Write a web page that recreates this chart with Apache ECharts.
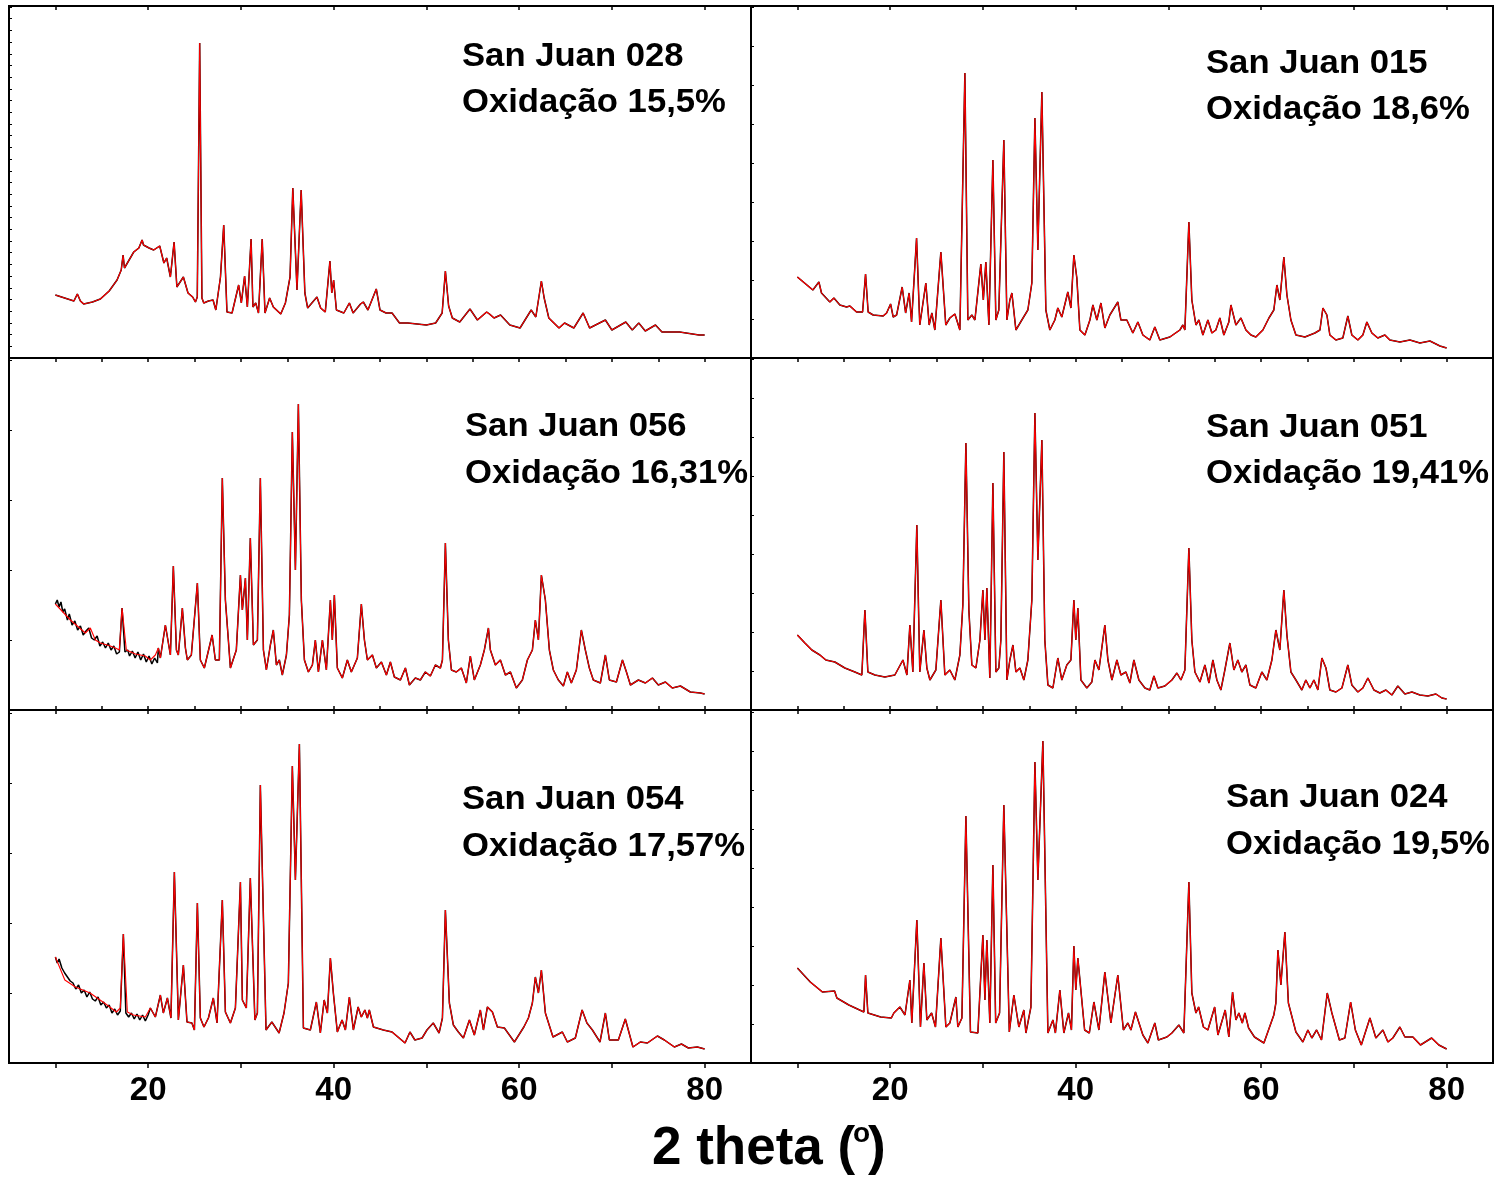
<!DOCTYPE html>
<html>
<head>
<meta charset="utf-8">
<script src="https://cdn.jsdelivr.net/npm/echarts@6/dist/echarts.min.js"></script>
<style>
  html, body { margin: 0; padding: 0; background: #fff; }
  #chart { width: 1499px; height: 1178px; }
</style>
</head>
<body>
<div id="chart"></div>
<script>
// XRD patterns: [2theta (deg), relative intensity (a.u.)]
const sj028 = [[10,63],[11,60],[12,57],[12.37,64],[12.7,57],[13.05,54],[14,56],[14.85,59],[15.8,67],[16.65,78],[17.1,88],[17.3,103],[17.45,90],[18.45,106],[19,110],[19.35,118],[19.5,113],[20.1,110],[20.6,108],[21.25,112],[21.7,95],[22,100],[22.4,81],[22.8,116],[23.1,71],[23.8,81],[24.3,65],[24.8,61],[25.1,56],[25.3,61],[25.56,315],[25.8,60],[26.0,55],[26.5,57],[27,58],[27.3,48],[27.8,81],[28.15,133],[28.5,46],[29.05,45],[29.76,73],[30.05,55],[30.4,82],[30.7,51],[31.1,119],[31.3,51],[31.6,55],[31.9,45],[32.3,119],[32.6,45],[33.1,60],[33.5,51],[34.3,44],[34.8,55],[35.3,81],[35.6,170],[36.05,68],[36.5,168],[36.9,65],[37.2,50],[38.2,61],[38.6,50],[39.1,46],[39.6,97],[39.8,65],[40,78],[40.3,48],[41.1,45],[41.7,55],[42.1,45],[42.9,54],[43.2,56],[43.7,48],[44.6,69],[45,48],[45.65,45],[46.3,45],[47.1,35],[48,35],[49,34],[50,33],[51,35],[51.7,45],[52.05,87],[52.4,52],[52.8,40],[53.6,36],[54.7,49],[55.5,38],[56.5,46],[56.8,44],[57.3,40],[58,43],[59,33],[60.1,30],[61.3,48],[61.8,41],[62.4,77],[62.7,60],[63.2,40],[64.3,30],[64.9,35],[65.9,30],[66.9,45],[67.6,30],[69.3,38],[70,28],[71.5,36],[72.2,28],[72.9,35],[73.6,27],[74.7,33],[75.4,26],[77.3,26],[79.4,23],[80,23]];

const sj015 = [[10,81],[11.67,68],[12.32,76],[12.6,65],[13.5,56],[13.94,60],[14.58,53],[15.3,51],[15.66,52],[16.38,46],[17.03,46],[17.35,84],[17.63,46],[18.17,43],[19.25,42],[19.62,45],[20.05,54],[20.33,41],[20.7,43],[21.3,71],[21.67,45],[22.05,65],[22.31,36],[22.85,120],[23.2,33],[23.85,75],[24.21,33],[24.5,45],[24.82,28],[25.47,106],[26.0,33],[26.44,40],[26.98,44],[27.52,28],[28.06,285],[28.38,38],[28.81,43],[29.14,38],[29.78,94],[30.05,58],[30.32,96],[30.65,33],[31.08,198],[31.4,38],[31.72,48],[32.26,218],[32.59,38],[32.91,58],[33.13,65],[33.56,28],[34.2,38],[34.85,48],[35.28,75],[35.61,240],[35.93,108],[36.36,266],[36.79,48],[37.22,28],[37.76,38],[38.08,50],[38.51,41],[39.16,66],[39.49,50],[39.81,103],[40.13,80],[40.46,28],[41.0,23],[41.54,38],[41.86,53],[42.29,38],[42.73,55],[43.15,30],[43.69,43],[44.55,56],[44.88,38],[45.52,38],[46.17,25],[46.71,36],[47.25,23],[48.0,18],[48.54,31],[49.08,18],[50.16,21],[51.24,28],[51.56,33],[51.78,28],[52.21,136],[52.53,58],[52.97,33],[53.29,38],[53.72,23],[54.26,38],[54.69,25],[55.12,28],[55.55,40],[55.98,23],[56.52,36],[56.74,53],[57.28,33],[57.82,40],[58.36,28],[58.9,23],[59.43,21],[60.19,28],[60.84,40],[61.37,48],[61.7,73],[62.02,58],[62.45,101],[62.78,63],[63.21,38],[63.75,23],[64.72,21],[65.8,25],[66.34,28],[66.66,50],[67.09,43],[67.41,23],[68.06,18],[68.81,20],[69.35,42],[69.78,23],[70.43,18],[70.97,23],[71.4,36],[71.94,25],[72.58,20],[73.34,23],[73.88,18],[74.96,16],[76.04,18],[77.12,15],[78.2,17],[79.28,12],[80,10]];

const sj056 = [[10,106],[11.62,90],[13.23,77],[13.77,82],[14.31,70],[14.85,67],[15.93,64],[16.47,62],[16.9,60],[17.19,102],[17.65,60],[18.63,56],[19.7,54],[20.24,50],[20.78,55],[21.1,62],[21.32,52],[21.86,85],[22.4,55],[22.72,144],[23.05,60],[23.26,55],[23.69,102],[24.02,62],[24.23,50],[24.66,55],[25.31,127],[25.63,50],[26.06,42],[26.9,75],[27.25,50],[27.68,50],[28.0,232],[28.33,110],[28.65,70],[28.87,42],[29.51,60],[29.95,135],[30.16,100],[30.49,132],[30.7,70],[31.02,172],[31.35,65],[31.78,70],[32.1,232],[32.43,60],[32.75,40],[33.18,65],[33.5,80],[33.83,45],[34.15,50],[34.47,35],[34.91,55],[35.23,95],[35.55,278],[35.88,140],[36.2,306],[36.52,110],[36.85,50],[37.28,38],[37.71,45],[38.03,70],[38.36,38],[38.79,70],[39.22,40],[39.65,110],[39.86,70],[40.08,115],[40.4,42],[40.94,32],[41.48,50],[41.91,38],[42.56,52],[42.99,106],[43.32,70],[43.64,50],[44.18,55],[44.61,42],[45.15,48],[45.69,35],[46.12,48],[46.55,33],[47.2,30],[47.74,42],[48.17,25],[48.81,32],[49.35,30],[49.89,38],[50.43,34],[50.97,45],[51.51,42],[51.73,50],[52.05,167],[52.37,70],[52.7,40],[53.23,38],[53.77,42],[54.31,27],[54.74,54],[55.17,30],[55.82,45],[56.25,60],[56.69,82],[56.9,60],[57.44,45],[57.98,50],[58.52,35],[59.06,38],[59.7,22],[60.35,30],[60.89,50],[61.43,60],[61.75,90],[62.08,70],[62.4,135],[62.83,110],[63.26,60],[63.69,40],[64.23,30],[64.77,24],[65.2,38],[65.63,27],[66.17,40],[66.71,80],[67.14,60],[67.57,42],[68.0,30],[68.76,27],[69.3,55],[69.73,30],[70.49,28],[71.14,50],[71.57,38],[72.0,25],[72.86,30],[73.61,27],[74.37,32],[75.01,25],[75.77,28],[76.52,22],[77.39,24],[78.46,18],[79.54,17],[80,16]];

// noisier low-angle scan for the black trace of San Juan 056
const sj056LowAngle = [[10,106],[10.2,110],[10.4,103],[10.6,108],[10.8,98],[11.0,101],[11.3,90],[11.5,96],[11.8,85],[12.1,89],[12.4,80],[12.7,84],[13.0,75],[13.3,79],[13.6,82],[13.9,72],[14.2,70],[14.5,74],[14.8,64],[15.1,68],[15.4,62],[15.7,67],[16.0,60],[16.3,64],[16.6,56],[16.9,58],[17.19,102],[17.5,58],[17.8,60],[18.0,54],[18.3,59],[18.6,52],[18.9,58],[19.2,50],[19.5,56],[19.8,48],[20.1,54],[20.4,46],[20.7,52],[21.0,47]];

const sj051 = [[10,75],[10.81,67],[11.56,60],[12.43,55],[13.07,50],[14.04,48],[15.12,42],[16.2,38],[16.95,35],[17.28,100],[17.6,38],[18.36,35],[19.43,33],[20.51,35],[21.38,50],[21.81,35],[22.13,85],[22.45,38],[22.88,185],[23.2,38],[23.64,80],[23.96,42],[24.29,30],[24.93,40],[25.47,110],[25.9,35],[26.44,40],[26.98,30],[27.52,55],[27.84,105],[28.17,267],[28.49,100],[28.81,45],[29.25,42],[29.68,70],[30.0,120],[30.22,70],[30.43,122],[30.75,32],[31.08,227],[31.4,38],[31.72,42],[31.94,70],[32.26,258],[32.59,30],[32.91,50],[33.24,65],[33.56,38],[33.99,42],[34.42,30],[34.85,50],[35.28,110],[35.61,297],[35.93,150],[36.36,270],[36.68,70],[37.01,25],[37.55,22],[38.08,52],[38.51,30],[39.05,45],[39.49,50],[39.81,110],[40.02,70],[40.24,102],[40.57,30],[41.21,22],[41.75,28],[42.08,50],[42.51,40],[43.15,85],[43.48,50],[43.91,30],[44.45,50],[44.88,35],[45.42,38],[45.85,27],[46.28,50],[46.82,30],[47.47,22],[48.0,20],[48.44,34],[48.87,22],[49.62,24],[50.38,30],[50.92,37],[51.35,30],[51.78,40],[52.21,162],[52.53,70],[52.86,38],[53.4,28],[53.94,45],[54.37,27],[54.8,50],[55.23,30],[55.66,20],[56.09,40],[56.63,67],[57.06,40],[57.49,50],[57.92,38],[58.36,45],[58.79,25],[59.43,22],[60.08,38],[60.62,30],[61.16,50],[61.59,80],[62.02,60],[62.45,120],[62.78,75],[63.21,38],[63.75,30],[64.39,20],[64.82,30],[65.26,22],[65.69,30],[66.12,20],[66.55,52],[66.99,42],[67.41,20],[68.06,18],[68.71,22],[69.35,45],[69.78,25],[70.43,18],[70.97,22],[71.51,32],[72.16,20],[72.8,17],[73.45,20],[74.1,15],[74.74,24],[75.5,16],[76.26,18],[77.12,15],[77.98,14],[78.84,16],[79.49,12],[80,11]];

const sj054 = [[10,106],[11.02,83],[12.16,76],[13.74,70],[15.28,60],[16.58,51],[17.0,55],[17.33,129],[17.76,51],[18.41,48],[19.7,46],[20.24,55],[20.78,46],[21.32,68],[21.64,50],[22.08,65],[22.46,45],[22.83,191],[23.26,43],[23.8,98],[24.19,41],[24.72,40],[24.99,33],[25.31,160],[25.63,45],[26.02,36],[26.5,45],[27.03,65],[27.43,40],[28.0,163],[28.33,51],[28.87,40],[29.41,55],[29.95,181],[30.16,63],[30.59,55],[31.02,185],[31.51,43],[31.78,50],[32.1,278],[32.71,33],[33.34,41],[34.12,30],[34.65,50],[35.12,80],[35.55,297],[35.88,183],[36.31,319],[36.74,35],[37.49,33],[38.14,61],[38.57,30],[38.98,63],[39.33,50],[39.65,105],[39.97,70],[40.4,31],[40.91,43],[41.27,33],[41.7,66],[42.13,33],[42.64,56],[42.99,46],[43.37,53],[43.64,45],[43.85,53],[44.29,36],[45.36,33],[46.3,31],[47.7,20],[48.23,31],[48.76,23],[49.54,25],[50.06,33],[50.74,40],[51.37,30],[51.73,45],[52.05,153],[52.48,60],[52.91,38],[53.45,31],[53.99,25],[54.64,43],[55.17,28],[55.82,53],[56.15,33],[56.58,56],[57.12,51],[57.66,36],[58.41,35],[59.49,21],[60.51,36],[61.0,45],[61.43,60],[61.75,86],[62.08,70],[62.4,93],[62.83,50],[63.65,26],[64.66,31],[65.2,21],[66.06,25],[66.79,53],[67.31,40],[67.9,33],[68.72,21],[69.3,50],[69.73,23],[70.7,23],[71.45,44],[72.27,16],[73.07,21],[73.83,20],[74.91,27],[75.66,23],[76.74,16],[77.5,19],[78.25,15],[79.22,16],[80,14]];

// noisier low-angle scan for the black trace of San Juan 054
const sj054LowAngle = [[10,106],[10.2,100],[10.4,104],[10.7,95],[11.0,90],[11.3,86],[11.6,82],[11.9,80],[12.2,74],[12.5,78],[12.8,70],[13.1,73],[13.4,66],[13.7,71],[14.0,64],[14.3,62],[14.6,66],[14.9,58],[15.2,61],[15.5,55],[15.8,58],[16.1,50],[16.4,54],[16.7,48],[17.0,52],[17.33,129],[17.6,50],[17.9,46],[18.2,50],[18.5,44],[18.8,49],[19.1,43],[19.4,48],[19.7,42],[20.0,48]];

const sj024 = [[10,95],[11.39,81],[12.7,71],[14.01,72],[14.26,65],[15.55,58],[17.17,51],[17.35,88],[17.6,50],[18.98,46],[20.13,45],[20.4,50],[21.05,56],[21.6,48],[22.13,83],[22.34,40],[22.88,143],[23.27,36],[23.64,100],[23.96,43],[24.47,50],[24.89,36],[25.47,125],[26.01,36],[26.44,40],[27.09,66],[27.3,36],[27.74,45],[28.17,247],[28.66,31],[29.46,30],[30.0,128],[30.22,63],[30.43,123],[30.75,40],[31.08,198],[31.38,40],[31.8,50],[32.26,258],[32.85,31],[33.34,68],[33.88,36],[34.42,53],[34.64,30],[35.18,56],[35.61,301],[35.93,183],[36.47,322],[37.01,30],[37.55,43],[37.82,30],[38.3,73],[38.73,30],[39.23,50],[39.55,33],[39.81,117],[40.02,73],[40.24,105],[40.97,33],[41.48,30],[41.97,61],[42.51,33],[43.15,91],[43.8,40],[44.55,88],[45.15,33],[45.63,40],[45.96,33],[46.45,51],[47.25,28],[47.79,20],[48.54,40],[48.92,23],[49.84,26],[50.38,30],[51.13,38],[51.67,30],[52.21,181],[52.53,70],[52.97,50],[53.26,56],[53.78,36],[54.26,33],[54.99,56],[55.34,28],[56.13,53],[56.52,26],[56.92,71],[57.28,43],[57.6,50],[57.97,40],[58.25,50],[58.65,35],[59.28,26],[60.3,20],[61.37,48],[61.59,60],[61.81,113],[62.13,78],[62.56,131],[62.94,60],[63.75,31],[64.5,21],[65.04,33],[65.47,25],[65.98,33],[66.51,23],[67.13,70],[67.63,50],[68.44,23],[69.03,25],[69.65,61],[70.16,33],[70.8,18],[71.73,45],[72.37,25],[73.13,33],[73.67,21],[74.2,25],[74.96,36],[75.5,26],[76.36,26],[77.18,18],[78.38,25],[79.16,18],[80,14]];

const sampleNames = ['San Juan 028', 'San Juan 015', 'San Juan 056', 'San Juan 051', 'San Juan 054', 'San Juan 024'];
const oxidationLabels = ['Oxidação 15,5%', 'Oxidação 18,6%', 'Oxidação 16,31%', 'Oxidação 19,41%', 'Oxidação 17,57%', 'Oxidação 19,5%'];

const xTicksMajor = [10, 20, 30, 40, 50, 60, 70, 80];
const xTicksMinor = [10, 15, 20, 25, 30, 35, 40, 45, 50, 55, 60, 65, 70, 75, 80];
const xTickLabels = [20, 40, 60, 80];

// red trace per panel and the black trace drawn underneath it
const redTraces = [sj028, sj015, sj056, sj051, sj054, sj024];
function withLowAngle(low, full) {
  const lastX = low[low.length - 1][0];
  return low.concat(full.filter(p => p[0] > lastX));
}
const blackTraces = [sj028, sj015, withLowAngle(sj056LowAngle, sj056), sj051, withLowAngle(sj054LowAngle, sj054), sj024];

// ---- layout ----
const colLeft = [9, 751];
const colWidth = 742;
const rowTop = [6, 358, 710];
const rowHeight = [352, 352, 353];
const yTickStep = [11.7, 39, 70, 39, 70, 39];
const labelPos = [
  [462, 57, 103], [1206, 64, 110],
  [465, 427, 474], [1206, 428, 474],
  [462, 800, 847], [1226, 798, 845]
];
const FONT = '"Liberation Sans", Arial, Helvetica, sans-serif';

const grid = [], xAxis = [], yAxis = [], series = [], graphic = [];

for (let i = 0; i < 6; i++) {
  const row = Math.floor(i / 2), col = i % 2;
  grid.push({
    left: colLeft[col], top: rowTop[row], width: colWidth, height: rowHeight[row],
    show: true, borderColor: '#000', borderWidth: 2, backgroundColor: 'transparent'
  });
  const isBottom = row === 2;
  const isMiddle = row === 1;
  // bottom axis
  xAxis.push({
    gridIndex: i, type: 'value', min: 5, max: 85, position: 'bottom',
    axisLine: { show: false }, splitLine: { show: false },
    axisTick: {
      show: isBottom || isMiddle, inside: !isBottom, length: isBottom ? 5 : 4,
      lineStyle: { color: '#000', width: 1.5 },
      customValues: isBottom ? xTicksMajor : xTicksMinor
    },
    axisLabel: {
      show: isBottom, customValues: xTickLabels, margin: 11,
      color: '#000', fontSize: 33, fontWeight: 'bold', fontFamily: FONT
    }
  });
  // top axis (ticks only)
  xAxis.push({
    gridIndex: i, type: 'value', min: 5, max: 85, position: 'top',
    axisLine: { show: false }, splitLine: { show: false },
    axisTick: {
      show: true, inside: true, length: 4,
      lineStyle: { color: '#000', width: 1.5 },
      customValues: isMiddle ? xTicksMinor : xTicksMajor
    },
    axisLabel: { show: false }
  });
  yAxis.push({
    gridIndex: i, type: 'value', min: 0, max: rowHeight[row], interval: yTickStep[i],
    axisLine: { show: false }, splitLine: { show: false },
    axisTick: { show: true, inside: true, length: 3, lineStyle: { color: '#000', width: 1 } },
    axisLabel: { show: false }
  });
  series.push({
    type: 'line', xAxisIndex: 2 * i, yAxisIndex: i, data: blackTraces[i],
    symbol: 'none', silent: true, z: 2,
    lineStyle: { color: '#000000', width: 1.5 }
  });
  series.push({
    type: 'line', xAxisIndex: 2 * i, yAxisIndex: i, data: redTraces[i],
    symbol: 'none', silent: true, z: 3,
    lineStyle: { color: '#ff0000', width: 1.1 }
  });
  const [lx, ly1, ly2] = labelPos[i];
  [[sampleNames[i], ly1], [oxidationLabels[i], ly2]].forEach(([txt, ly]) => {
    graphic.push({
      type: 'text', x: lx, y: ly, scaleX: 1.05, z: 10,
      style: { text: txt, fill: '#000', font: 'bold 33px ' + FONT, verticalAlign: 'middle', align: 'left' }
    });
  });
}

// axis title: 2 theta (°)
graphic.push({
  type: 'text', x: 652, y: 1149, z: 10,
  style: { text: '2 theta (', fill: '#000', font: 'bold 53px ' + FONT, verticalAlign: 'middle', align: 'left' }
});
graphic.push({
  type: 'text', x: 853, y: 1134, z: 10,
  style: { text: 'o', fill: '#000', font: 'bold 28px ' + FONT, verticalAlign: 'middle', align: 'left' }
});
graphic.push({
  type: 'text', x: 868, y: 1149, z: 10,
  style: { text: ')', fill: '#000', font: 'bold 53px ' + FONT, verticalAlign: 'middle', align: 'left' }
});

const chart = echarts.init(document.getElementById('chart'), null, { renderer: 'canvas' });
chart.setOption({
  backgroundColor: '#fff',
  animation: false,
  grid, xAxis, yAxis, series, graphic
});
</script>
</body>
</html>
